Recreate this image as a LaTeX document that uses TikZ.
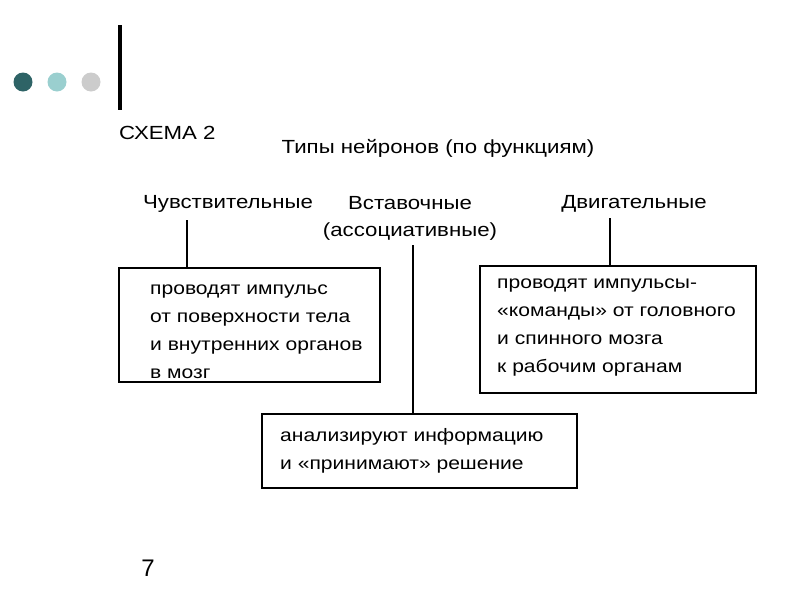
\documentclass[tikz,border=0pt]{standalone}
\usepackage{fontspec}
\setmainfont[FakeStretch=1.17]{Liberation Sans}
\newfontfamily\plainfont{Liberation Sans}
\begin{document}
\begin{tikzpicture}[x=1pt,y=-1pt,
  lbl/.style={inner sep=0pt,font=\fontsize{19}{27}\selectfont},
  boxtxt/.style={inner sep=0pt,anchor=north west,align=left,font=\fontsize{18}{27.8}\selectfont},
  box/.style={draw,line width=1.6pt,inner sep=0pt},
  conn/.style={line width=1.6pt}]
\useasboundingbox (0,0) rectangle (800,600);
% decoration
\fill[fill={rgb,255:red,46;green,99;blue,102}] (23,82) circle (9.5);
\fill[fill={rgb,255:red,154;green,207;blue,207}] (57,82) circle (9.5);
\fill[fill={rgb,255:red,204;green,204;blue,204}] (91,82) circle (9.5);
\fill[black] (118,25) rectangle (122,110);
\node[lbl,anchor=west] (schema) at (119,133) {СХЕМА 2};
\node[lbl] (title) at (438,148) {Типы нейронов (по функциям)};
\node[lbl] (h1) at (228,204) {Чувствительные};
\node[lbl,align=center] (h2) at (410,218) {Вставочные\\(ассоциативные)};
\node[lbl] (h3) at (634,204) {Двигательные};
% boxes
\node[box,minimum width=261,minimum height=114] (b1) at (249.5,325) {};
\node[box,minimum width=276,minimum height=127] (b2) at (618,329.5) {};
\node[box,minimum width=315,minimum height=74] (b3) at (419.5,451) {};
\node[boxtxt] (t1) at (150,285) {проводят импульс\\от поверхности тела\\и внутренних органов\\в мозг};
\node[boxtxt] (t2) at (497,279) {проводят импульсы-\\«команды» от головного\\и спинного мозга\\к рабочим органам};
\node[boxtxt] (t3) at (280,428) {анализируют информацию\\и «принимают» решение};
% connectors
\coordinate (a1) at (187,220);
\coordinate (a2) at (413,245);
\coordinate (a3) at (610,218);
\draw[conn] (a1) -- (a1 |- b1.north);
\draw[conn] (a2) -- (a2 |- b3.north);
\draw[conn] (a3) -- (a3 |- b2.north);
\node[inner sep=0pt,font=\plainfont\fontsize{24}{24}\selectfont] (page) at (148,568) {7};
\end{tikzpicture}
\end{document}
